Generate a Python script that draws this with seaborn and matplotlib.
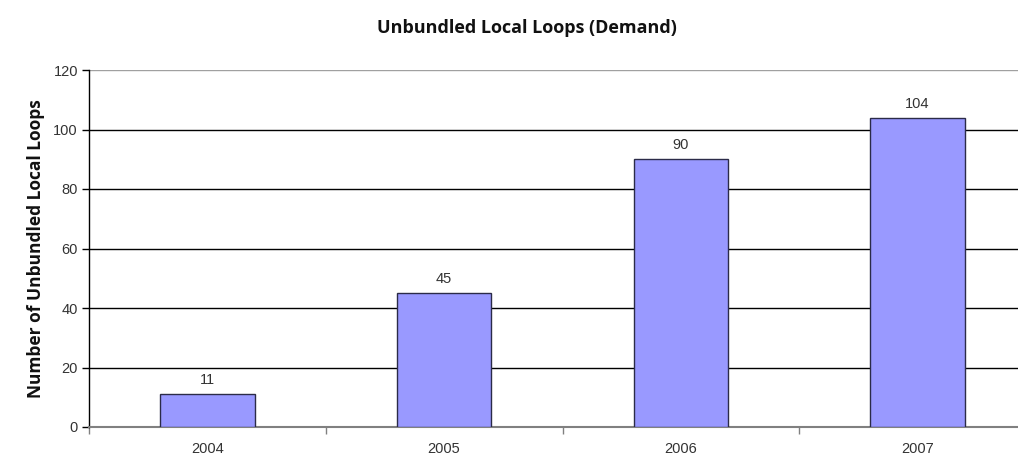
import matplotlib
matplotlib.use("Agg")
import matplotlib.pyplot as plt
import seaborn as sns
import pandas as pd

years = ["2004", "2005", "2006", "2007"]
loops = [11, 45, 90, 104]
y_ticks = [0, 20, 40, 60, 80, 100, 120]

sns.set_theme(style="white")
plt.rcParams["font.family"] = ["Liberation Sans", "DejaVu Sans"]

W, H = 1018, 457
fig = plt.figure(figsize=(W / 100, H / 100), dpi=100)
# plot area runs past the right edge of the canvas
left, right, top, bottom = 89, 1036, 70, 427
ax = fig.add_axes([left / W, 1 - bottom / H, (right - left) / W, (bottom - top) / H])

df = pd.DataFrame({"year": years, "loops": loops})
sns.barplot(data=df, x="year", y="loops", ax=ax, color="#9999FF", saturation=1,
            width=0.4, edgecolor="#2b2b48", linewidth=1.0, zorder=3)

ax.set_xlim(-0.5, len(years) - 0.5)
ax.set_ylim(0, 120)
ax.set_yticks(y_ticks)
ax.set_yticklabels([str(v) for v in y_ticks], fontsize=10.5, color="#333333")
ax.set_xticks(range(len(years)))
ax.set_xticklabels(years, fontsize=10.5, color="#333333")
ax.set_xticks([i - 0.5 for i in range(len(years) + 1)], minor=True)

ax.tick_params(axis="x", which="major", length=0, pad=11, bottom=False)
ax.tick_params(axis="x", which="minor", length=5, width=1, color="#808080",
               direction="out", bottom=True)
ax.tick_params(axis="y", which="major", length=5, width=1, color="black",
               direction="out", pad=3, left=True)

for v in y_ticks[1:-1]:
    ax.axhline(v, color="black", linewidth=1.0, zorder=1)
ax.axhline(120, color="#a0a0a0", linewidth=1.0, zorder=1)

for s in ["top", "right"]:
    ax.spines[s].set_visible(False)
ax.spines["left"].set_color("black")
ax.spines["left"].set_linewidth(1.0)
ax.spines["bottom"].set_color("#808080")
ax.spines["bottom"].set_linewidth(1.5)

for i, v in enumerate(loops):
    ax.annotate(str(v), (i, v), xytext=(0, 5), textcoords="offset points",
                ha="center", va="bottom", fontsize=10.5, color="#333333")

ax.set_xlabel("")
ax.set_ylabel("Number of Unbundled Local Loops", fontsize=12.5, fontweight="bold",
              family=["Open Sans", "DejaVu Sans"], color="#111111")
ax.yaxis.set_label_coords((45 - left) / (right - left), 0.5)

fig.text(527 / W, 1 - 28 / H, "Unbundled Local Loops (Demand)", ha="center", va="center",
         fontsize=13, fontweight="bold", family=["Open Sans", "DejaVu Sans"], color="#111111")

fig.savefig("out.png", dpi=100, facecolor="white")
